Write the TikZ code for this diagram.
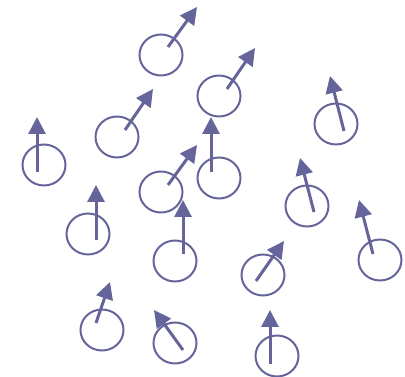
\documentclass[tikz,border=0pt]{standalone}
\usetikzlibrary{arrows.meta}
\definecolor{spin}{HTML}{65659B}
\tikzset{
  cell/.style={draw=spin, line width=2pt},
  spinarrow/.style={draw=spin, line width=3pt, -{Triangle[length=17pt,width=17pt]}}
}
\begin{document}
\begin{tikzpicture}[x=1pt,y=-1pt]
\useasboundingbox (0,0) rectangle (405,377);
\foreach \cx/\cy/\sx/\sy/\ex/\ey in {
 161/55/168/47/197/7,
 117/137/125/130/153/89,
 44/165/37/172/37/117,
 161/192/168/185/197/145,
 219/96/227/89/255/48,
 336/124/344/131/330/76,
 219/178/211/172/211/117,
 307/206/314/212/300/158,
 88/234/96/240/96/185,
 175/261/183/254/183/200,
 102/330/96/323/110/282,
 175/343/183/350/154/310,
 380/260/373/254/359/200,
 263/275/256/281/284/241,
 277/356/270/364/270/310}{
  \draw[cell] (\cx,\cy) ellipse [x radius=21.5, y radius=20.5];
  \draw[spinarrow] (\sx,\sy) -- (\ex,\ey);
}
\end{tikzpicture}
\end{document}
